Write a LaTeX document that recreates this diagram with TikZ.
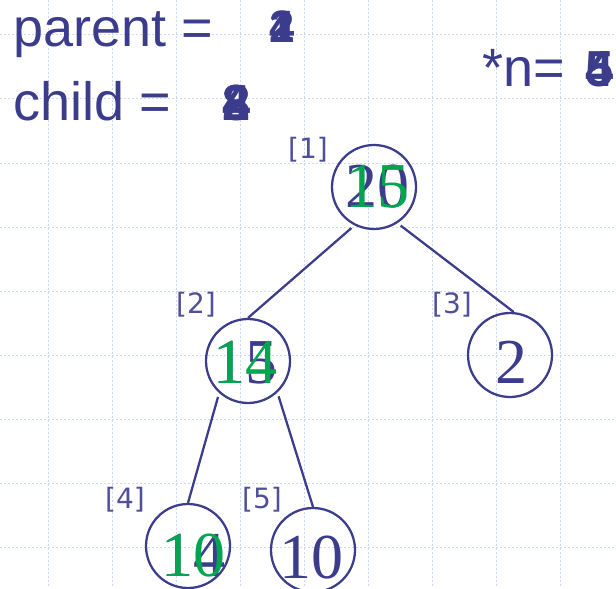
\documentclass[tikz,border=0pt]{standalone}
\usepackage{fontspec}
\setmainfont{Liberation Sans}
\newfontfamily\keyfont{Liberation Serif}
\newfontfamily\idxfont{DejaVu Sans}
\definecolor{slate}{RGB}{60,60,140}
\definecolor{leaf}{RGB}{0,165,80}
\definecolor{gridline}{RGB}{205,215,248}

\begin{document}
\begin{tikzpicture}[x=0.75pt, y=-0.75pt,
  key/.style={circle, draw=slate, line width=1.7pt, minimum size=63pt, inner sep=0pt},
  num/.style={font=\keyfont\fontsize{48}{48}\selectfont, text=slate, anchor=base, inner sep=0pt},
  newnum/.style={num, text=leaf},
  idx/.style={font=\idxfont\fontsize{21}{21}\selectfont, text=slate!90, inner sep=0pt},
  big/.style={font=\fontsize{40.5}{40.5}\selectfont, text=slate, anchor=base west, inner sep=0pt},
  val/.style={font=\bfseries\fontsize{#1}{#1}\selectfont, text=slate, anchor=base, inner sep=0pt},
  link/.style={draw=slate, line width=1.7pt, shorten <=3pt}]
\useasboundingbox (0,0) rectangle (616,588);
% slide grid
\foreach \gx in {48,112,...,560}
  \draw[gridline, line width=0.75pt, dash pattern=on 1.5pt off 1.5pt] (\gx,0) -- (\gx,588);
\foreach \gy in {35,99,...,547}
  \draw[gridline, line width=0.75pt, dash pattern=on 1.5pt off 1.5pt] (0,\gy) -- (616,\gy);

% counters
\node[big] (parent) at (13,47) {parent =};
\node[big] (child) at (13,120) {child =};
\node[big] (count) at (482,87) {*n=};
\foreach \v [count=\i] in {1,2,4}
  \node[val=34] (pv\i) at (282,43) {\v};
\foreach \v [count=\i] in {2,4,8}
  \node[val=38] (cv\i) at (237,120) {\v};
\foreach \v [count=\i] in {5,4}
  \node[val=38] (nv\i) at (600,87) {\v};

% heap
\node[key] (k1) at (374,187) {};
\node[key] (k2) at (248,361) {};
\node[key] (k3) at (510,355) {};
\node[key] (k4) at (188,546) {};
\node[key] (k5) at (313,550) {};
\node[idx] (i1) at (308,150) {[1]};
\node[idx] (i2) at (196,305) {[2]};
\node[idx] (i3) at (452,305) {[3]};
\node[idx] (i4) at (125,500) {[4]};
\node[idx] (i5) at (262,500) {[5]};
\draw[link] (k1.-117) -- (k2.north);
\draw[link] (k1.-57) -- (k3.85);
\draw[link] (k2.-132) -- (k4.north);
\draw[link] (k2.-47) -- (k5.north);

% values, old and new
\node[num] (a1) at (377,207) {20};
\node[newnum] (b1) at (377,207) {15};
\node[num] (a2) at (245,383) {15};
\node[newnum] (b2) at (245,383) {14};
\node[num] (a3) at (511,383) {2};
\node[num] (a4) at (193,576) {14};
\node[newnum] (b4) at (193,576) {10};
\node[num] (a5) at (311,578) {10};
\end{tikzpicture}
\end{document}
